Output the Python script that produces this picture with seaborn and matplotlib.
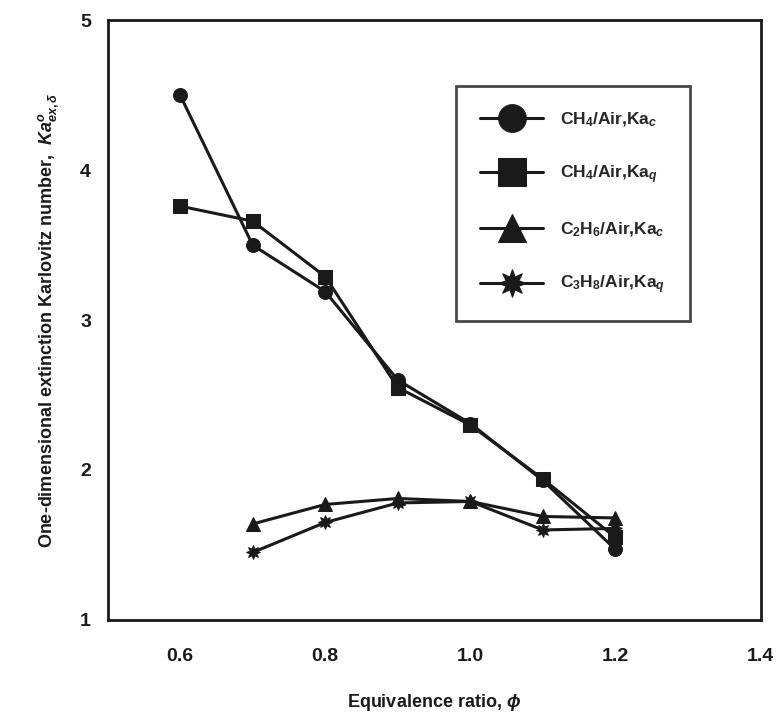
import matplotlib
matplotlib.use("Agg")
import matplotlib.pyplot as plt
import seaborn as sns
import pandas as pd

phi = [0.6, 0.7, 0.8, 0.9, 1.0, 1.1, 1.2]
phi_c2 = [0.7, 0.8, 0.9, 1.0, 1.1, 1.2]
ch4_kac = [4.50, 3.50, 3.19, 2.60, 2.31, 1.93, 1.47]
ch4_kaq = [3.76, 3.66, 3.29, 2.55, 2.30, 1.94, 1.55]
c2h6_kac = [1.64, 1.77, 1.81, 1.79, 1.69, 1.68]
c3h8_kaq = [1.45, 1.65, 1.78, 1.79, 1.60, 1.61]
labels = [r"CH$_4$/Air,Ka$_c$", r"CH$_4$/Air,Ka$_q$",
          r"C$_2$H$_6$/Air,Ka$_c$", r"C$_3$H$_8$/Air,Ka$_q$"]
xticks = [0.6, 0.8, 1.0, 1.2, 1.4]
yticks = [1, 2, 3, 4, 5]

frames = []
for lab, xs, ys in zip(labels, [phi, phi, phi_c2, phi_c2],
                       [ch4_kac, ch4_kaq, c2h6_kac, c3h8_kaq]):
    frames.append(pd.DataFrame({"phi": xs, "Ka": ys, "series": lab}))
df = pd.concat(frames, ignore_index=True)

sns.set_theme(style="white")
plt.rcParams["font.family"] = ["Liberation Sans", "DejaVu Sans"]
plt.rcParams["mathtext.fontset"] = "custom"
plt.rcParams["mathtext.rm"] = "Liberation Sans:bold"
plt.rcParams["mathtext.it"] = "Liberation Sans:bold:italic"
plt.rcParams["mathtext.bf"] = "Liberation Sans:bold"

fig = plt.figure(figsize=(7.8, 7.25), dpi=100)
ax = fig.add_axes([0.138, 0.145, 0.837, 0.827])

markers = {labels[0]: "o", labels[1]: "s", labels[2]: "^", labels[3]: (8, 1, 0)}
palette = {l: "#1a1a1a" for l in labels}
sns.lineplot(data=df, x="phi", y="Ka", hue="series", style="series",
             markers=markers, dashes=False, palette=palette, ax=ax,
             linewidth=2.2, markersize=10, markeredgecolor="#1a1a1a",
             sort=False, legend=True)

ax.set_xlim(0.5, 1.4)
ax.set_ylim(1, 5)
ax.set_xticks(xticks)
ax.set_xticklabels(["0.6", "0.8", "1.0", "1.2", "1.4"])
ax.set_yticks(yticks)
ax.tick_params(direction="in", length=8, width=1.5, pad=12,
               labelsize=14, colors="#1a1a1a")
ax.tick_params(axis="x", pad=20)
for t in ax.get_xticklabels() + ax.get_yticklabels():
    t.set_fontweight("bold")
for s in ax.spines.values():
    s.set_visible(True)
    s.set_color("#1a1a1a")
    s.set_linewidth(2.0)

ax.set_xlabel(r"Equivalence ratio, $\phi$", fontsize=13, fontweight="bold",
              labelpad=20, color="#1a1a1a")
ax.set_ylabel(r"One-dimensional extinction Karlovitz number,  $Ka^{o}_{ex,\delta}$",
              fontsize=13, fontweight="bold", labelpad=14, color="#1a1a1a")

leg = ax.legend(loc="upper right", bbox_to_anchor=(0.905, 0.905),
                frameon=True, fancybox=False, edgecolor="#1a1a1a",
                fontsize=12.5, handlelength=3.6, labelspacing=2.0,
                borderpad=1.4, markerscale=2.0, handletextpad=1.0)
leg.get_frame().set_linewidth(2.0)
for t in leg.get_texts():
    t.set_fontweight("bold")

fig.savefig("out.png", dpi=100, facecolor="white")
